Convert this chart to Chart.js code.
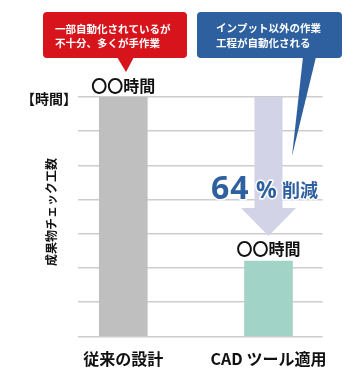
<!DOCTYPE html>
<html><head><meta charset="utf-8">
<script src="https://cdn.jsdelivr.net/npm/chart.js@4"></script>
<style>html,body{margin:0;padding:0;background:#fff}#wrap{width:360px;height:390px}</style>
</head><body><div id="wrap"><canvas id="c" width="360" height="390"></canvas></div>
<script>
const categories = ['従来の設計', 'CAD ツール適用'];
const hours = [7, 2.2];
const valueLabels = ['〇〇時間', '〇〇時間'];
const yTitle = '成果物チェック工数';
const unitLabel = '【時間】';
const reductionNum = '64';
const reductionPct = '%';
const reductionWord = '削減';
const redNote = ['一部自動化されているが', '不十分、多くが手作業'];
const blueNote = ['インプット以外の作業', '工程が自動化される'];

const JP = '"Noto Sans CJK JP", "Noto Sans", sans-serif';
const RED = '#d7141c';
const BLUE = '#2e609f';

function roundRect(ctx, x, y, w, h, r) {
  ctx.beginPath();
  ctx.moveTo(x + r, y);
  ctx.lineTo(x + w - r, y); ctx.quadraticCurveTo(x + w, y, x + w, y + r);
  ctx.lineTo(x + w, y + h - r); ctx.quadraticCurveTo(x + w, y + h, x + w - r, y + h);
  ctx.lineTo(x + r, y + h); ctx.quadraticCurveTo(x, y + h, x, y + h - r);
  ctx.lineTo(x, y + r); ctx.quadraticCurveTo(x, y, x + r, y);
  ctx.closePath();
}

const overlay = {
  id: 'overlay',
  afterDatasetsDraw(chart) {
    const ctx = chart.ctx;
    const meta = chart.getDatasetMeta(0);
    const ys = chart.scales.y;
    const b0 = meta.data[0], b1 = meta.data[1];
    ctx.save();
    // arrow
    const ax = b1.x;
    const aTop = ys.getPixelForValue(hours[0]);
    const tip = b1.y - 25;
    const headBase = tip - 28;
    ctx.fillStyle = '#d3d3e8';
    ctx.beginPath();
    ctx.moveTo(ax - 14, aTop);
    ctx.lineTo(ax + 14, aTop);
    ctx.lineTo(ax + 14, headBase);
    ctx.lineTo(ax + 27.5, headBase);
    ctx.lineTo(ax, tip);
    ctx.lineTo(ax - 27.5, headBase);
    ctx.lineTo(ax - 14, headBase);
    ctx.closePath();
    ctx.fill();

    // 64% 削減
    ctx.textBaseline = 'alphabetic';
    ctx.textAlign = 'left';
    ctx.lineJoin = 'round';
    ctx.strokeStyle = '#ffffff';
    ctx.lineWidth = 3;
    ctx.fillStyle = BLUE;
    ctx.font = 'bold 32px "Noto Sans", sans-serif';
    try { ctx.letterSpacing = '1px'; } catch (e) {}
    ctx.strokeText(reductionNum, 211, 199);
    ctx.fillText(reductionNum, 211, 199);
    try { ctx.letterSpacing = '0px'; } catch (e) {}
    ctx.font = 'bold 23px "Noto Sans", sans-serif';
    ctx.strokeText(reductionPct, 256, 198);
    ctx.fillText(reductionPct, 256, 198);
    ctx.font = 'bold 18px ' + JP;
    ctx.strokeText(reductionWord, 282, 197);
    ctx.fillText(reductionWord, 282, 197);

    // value labels
    ctx.fillStyle = '#111';
    ctx.font = 'bold 16px ' + JP;
    ctx.textAlign = 'center';
    ctx.textBaseline = 'middle';
    ctx.fillText(valueLabels[0], b0.x, b0.y - 11);
    ctx.fillText(valueLabels[1], b1.x, b1.y - 12);

    // unit label
    ctx.font = 'bold 14px ' + JP;
    ctx.textAlign = 'right';
    ctx.fillText(unitLabel, 77, 99);

    // y title
    ctx.save();
    ctx.translate(51, 212);
    ctx.rotate(-Math.PI / 2);
    ctx.textAlign = 'center';
    ctx.font = 'bold 12px ' + JP;
    ctx.fillText(yTitle, 0, 0);
    ctx.restore();

    // red callout
    ctx.fillStyle = RED;
    roundRect(ctx, 43, 12, 144, 46, 4);
    ctx.fill();
    ctx.beginPath();
    ctx.moveTo(117, 57); ctx.lineTo(134, 57); ctx.lineTo(126, 72); ctx.closePath();
    ctx.fill();
    // blue callout
    ctx.fillStyle = BLUE;
    roundRect(ctx, 197, 12, 145, 46, 4);
    ctx.fill();
    ctx.beginPath();
    ctx.moveTo(303, 57); ctx.lineTo(316, 57); ctx.lineTo(292, 156); ctx.closePath();
    ctx.fill();

    ctx.fillStyle = '#fff';
    ctx.font = 'bold 10.5px ' + JP;
    ctx.textAlign = 'left';
    ctx.fillText(redNote[0], 55, 29);
    ctx.fillText(redNote[1], 55, 43);
    ctx.fillText(blueNote[0], 216, 28);
    ctx.fillText(blueNote[1], 216, 43);
    ctx.restore();
  }
};

new Chart(document.getElementById('c'), {
  type: 'bar',
  data: {
    datasets: [{
      data: hours.map((v, i) => ({ x: i, y: v })),
      backgroundColor: ['#bfbfbf', '#a2d3c7'],
      barThickness: 48,
      borderWidth: 0
    }]
  },
  options: {
    responsive: false,
    animation: false,
    devicePixelRatio: 1,
    layout: { padding: { top: 97, left: 78, right: 37.5, bottom: 8.5 } },
    plugins: { legend: { display: false }, tooltip: { enabled: false } },
    scales: {
      x: {
        type: 'linear',
        offset: false,
        min: -0.312,
        max: 1.372,
        afterBuildTicks(scale) { scale.ticks = categories.map((c, i) => ({ value: i })); },
        ticks: {
          callback: (v) => categories[v],
          font: { family: JP, size: 16, weight: 'bold' },
          color: '#111',
          padding: 13,
          maxRotation: 0,
          autoSkip: false
        },
        grid: { display: false, drawTicks: false, offset: false },
        border: { display: false }
      },
      y: {
        min: 0,
        max: 7,
        ticks: { stepSize: 1, display: false },
        grid: { color: '#cdcdcd', lineWidth: 1.5, drawTicks: false },
        border: { display: false }
      }
    }
  },
  plugins: [overlay]
});
</script></body></html>
